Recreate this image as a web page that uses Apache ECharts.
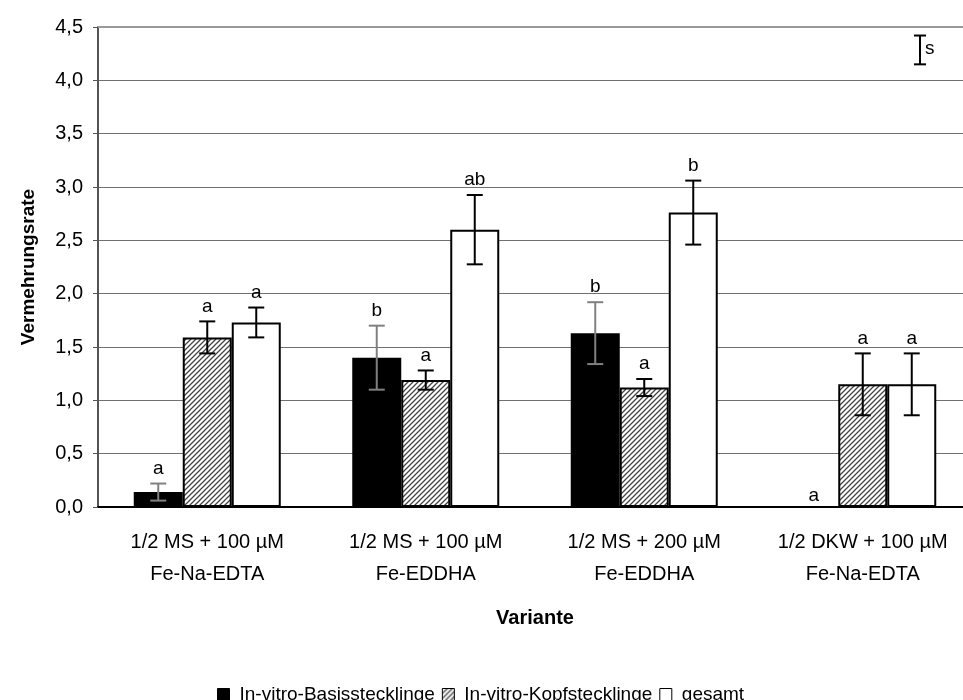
<!DOCTYPE html>
<html>
<head>
<meta charset="utf-8">
<script src="https://cdn.jsdelivr.net/npm/echarts@6/dist/echarts.min.js"></script>
<style>
  html, body { margin: 0; padding: 0; background: #fff; }
  #chart { width: 963px; height: 700px; }
</style>
</head>
<body>
<div id="chart"></div>
<script>
// Vermehrungsrate je Variante (Mittelwert ± Streuung), Buchstaben = Signifikanzgruppen
const categories = [
  '1/2 MS + 100 µM\nFe-Na-EDTA',
  '1/2 MS + 100 µM\nFe-EDDHA',
  '1/2 MS + 200 µM\nFe-EDDHA',
  '1/2 DKW + 100 µM\nFe-Na-EDTA'
];
const seriesNames = ['In-vitro-Basisstecklinge', 'In-vitro-Kopfstecklinge', 'gesamt'];

const basis      = [0.14, 1.40, 1.63, 0.00];
const basisErr   = [0.08, 0.30, 0.29, 0.00];
const kopf       = [1.59, 1.19, 1.12, 1.15];
const kopfErr    = [0.15, 0.09, 0.08, 0.29];
const gesamt     = [1.73, 2.60, 2.76, 1.15];
const gesamtErr  = [0.14, 0.325, 0.30, 0.29];

const basisLetters  = ['a', 'b', 'b', 'a'];
const kopfLetters   = ['a', 'a', 'a', 'a'];
const gesamtLetters = ['a', 'ab', 'b', 'a'];

// Streuungsmaß "s" (oben rechts), als Wertebereich
const sRange = [4.15, 4.42];

const FONT = '"Liberation Sans", Arial, sans-serif';
const BAR_W = 49;

// Schraffur für Kopfstecklinge
function hatch() {
  const c = document.createElement('canvas');
  c.width = 5; c.height = 5;
  const g = c.getContext('2d');
  g.fillStyle = '#fff';
  g.fillRect(0, 0, 5, 5);
  g.strokeStyle = '#444';
  g.lineWidth = 1.3;
  g.beginPath();
  g.moveTo(-1, 6); g.lineTo(6, -1);
  g.moveTo(-1, 1); g.lineTo(1, -1);
  g.moveTo(4, 6); g.lineTo(6, 4);
  g.stroke();
  return c;
}
const hatchFill = { image: hatch(), repeat: 'repeat' };

const groups = [
  { vals: basis,  err: basisErr,  letters: basisLetters,  fill: '#000',    errColor: '#808080' },
  { vals: kopf,   err: kopfErr,   letters: kopfLetters,   fill: hatchFill, errColor: '#000' },
  { vals: gesamt, err: gesamtErr, letters: gesamtLetters, fill: '#fff',    errColor: '#000' }
];

const barSeries = groups.map((g, i) => ({
  name: seriesNames[i],
  type: 'bar',
  barWidth: BAR_W,
  barGap: '0%',
  data: g.vals,
  itemStyle: { color: g.fill, borderColor: '#000', borderWidth: 2 },
  emphasis: { disabled: true },
  z: 2
}));

const errSeries = groups.map((g, i) => ({
  type: 'custom',
  z: 5,
  silent: true,
  encode: { x: 0, y: 1 },
  data: g.vals.map((v, k) => [k, v, g.err[k]]),
  renderItem: function (params, api) {
    const k = api.value(0), v = api.value(1), e = api.value(2);
    const off = (i - 1) * BAR_W;
    const top = api.coord([k, v + e]);
    const bot = api.coord([k, v - e]);
    const x = top[0] + off;
    const cap = 8;
    const children = [];
    if (e > 0) {
      const st = { stroke: g.errColor, lineWidth: 2 };
      children.push(
        { type: 'line', shape: { x1: x, y1: top[1], x2: x, y2: bot[1] }, style: st },
        { type: 'line', shape: { x1: x - cap, y1: top[1], x2: x + cap, y2: top[1] }, style: st },
        { type: 'line', shape: { x1: x - cap, y1: bot[1], x2: x + cap, y2: bot[1] }, style: st }
      );
    }
    children.push({
      type: 'text',
      style: {
        text: g.letters[params.dataIndex],
        x: x, y: top[1] - (e > 0 ? 15 : 11),
        align: 'center', verticalAlign: 'middle',
        font: '19px ' + FONT, fill: '#000'
      }
    });
    return { type: 'group', children: children };
  }
}));

const sSeries = {
  type: 'custom',
  z: 5,
  silent: true,
  encode: { x: 0, y: 1 },
  data: [[3, sRange[0], sRange[1]]],
  renderItem: function (params, api) {
    const lo = api.coord([api.value(0), api.value(1)]);
    const hi = api.coord([api.value(0), api.value(2)]);
    const x = lo[0] + api.size([1, 0])[0] * 0.262;
    const st = { stroke: '#000', lineWidth: 2 };
    return {
      type: 'group',
      children: [
        { type: 'line', shape: { x1: x, y1: hi[1], x2: x, y2: lo[1] }, style: st },
        { type: 'line', shape: { x1: x - 6, y1: hi[1], x2: x + 6, y2: hi[1] }, style: st },
        { type: 'line', shape: { x1: x - 6, y1: lo[1], x2: x + 6, y2: lo[1] }, style: st },
        { type: 'text', style: { text: 's', x: x + 5, y: (hi[1] + lo[1]) / 2 - 1,
          align: 'left', verticalAlign: 'middle', font: '19px ' + FONT, fill: '#000' } }
      ]
    };
  }
};

const chart = echarts.init(document.getElementById('chart'), null, { renderer: 'canvas' });
chart.setOption({
  animation: false,
  backgroundColor: '#fff',
  textStyle: { fontFamily: FONT, color: '#000' },
  grid: {
    left: 98, top: 27, width: 874, height: 480,
    outerBoundsMode: 'none', containLabel: false,
    show: true, borderWidth: 0, backgroundColor: 'transparent'
  },
  legend: {
    data: seriesNames,
    left: 212,
    top: 680,
    itemWidth: 12,
    itemHeight: 12,
    itemGap: 7,
    icon: 'rect',
    selectedMode: false,
    itemStyle: { borderWidth: 1, borderColor: '#000' },
    textStyle: { fontSize: 19, color: '#000', fontFamily: FONT, padding: [0, 0, 0, 5] }
  },
  xAxis: [{
    type: 'category',
    data: categories,
    name: 'Variante',
    nameLocation: 'middle',
    nameGap: 101,
    nameTextStyle: { fontSize: 20, fontWeight: 'bold', color: '#000', fontFamily: FONT },
    axisLine: { lineStyle: { color: '#000', width: 2 } },
    axisTick: { length: 6, lineStyle: { color: '#555', width: 1 } },
    axisLabel: { fontSize: 20, lineHeight: 32, color: '#000', margin: 19, fontFamily: FONT, interval: 0 },
    splitLine: { show: false }
  }, {
    // obere Rahmenlinie der Zeichenfläche
    type: 'category',
    position: 'top',
    data: categories,
    axisLine: { lineStyle: { color: '#999', width: 2 } },
    axisTick: { show: false },
    axisLabel: { show: false },
    splitLine: { show: false }
  }],
  yAxis: {
    type: 'value',
    min: 0, max: 4.5, interval: 0.5,
    name: 'Vermehrungsrate',
    nameLocation: 'middle',
    nameGap: 60,
    nameTextStyle: { fontSize: 19, fontWeight: 'bold', color: '#000', fontFamily: FONT },
    axisLine: { show: true, lineStyle: { color: '#555', width: 2 } },
    axisTick: { show: true, length: 5, lineStyle: { color: '#555' } },
    axisLabel: {
      fontSize: 20, color: '#000', margin: 15, fontFamily: FONT,
      formatter: v => v.toFixed(1).replace('.', ',')
    },
    splitLine: { lineStyle: { color: '#707070', width: 1 } }
  },
  series: barSeries.concat(errSeries, [sSeries])
});
</script>
</body>
</html>
